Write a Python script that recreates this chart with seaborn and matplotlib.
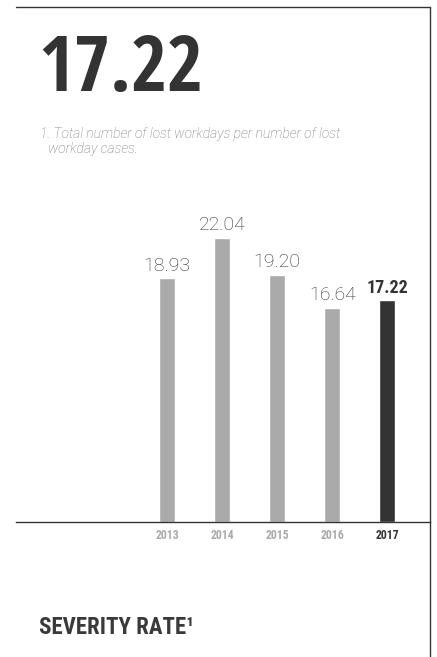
import matplotlib
matplotlib.use("Agg")
import matplotlib.pyplot as plt
from matplotlib.lines import Line2D
import seaborn as sns
import pandas as pd

# Severity rate by year
years = ["2013", "2014", "2015", "2016", "2017"]
values = [18.93, 22.04, 19.20, 16.64, 17.22]
value_labels = ["18.93", "22.04", "19.20", "16.64", "17.22"]
headline = "17.22"
footnote_lines = ["1. Total number of lost workdays per number of lost", "workday cases."]
title = "SEVERITY RATE\u00b9"

GREY = "#aaaaaa"
DARK = "#333333"
HEAD = ["Open Sans Condensed", "Roboto Condensed", "DejaVu Sans"]
COND = ["Roboto Condensed", "Open Sans Condensed", "DejaVu Sans"]

sns.set_theme(style="white")
plt.rcParams["font.family"] = ["Roboto", "DejaVu Sans"]

df = pd.DataFrame({"year": years, "value": values})
palette = {y: (DARK if i == len(years) - 1 else GREY) for i, y in enumerate(years)}

fig = plt.figure(figsize=(4.37, 6.57), dpi=100)
ax = fig.add_axes([16 / 437, (657 - 522) / 657, (430 - 16) / 437, 322 / 657])

sns.barplot(data=df, x="year", y="value", hue="year", palette=palette,
            order=years, hue_order=years, dodge=False, width=0.29,
            legend=False, ax=ax, saturation=1)

ax.set_xlim(-2.75, 4.78)
ax.set_ylim(0, 25)
ax.set_xlabel("")
ax.set_ylabel("")
ax.set_yticks([])
for s in ["top", "right", "left"]:
    ax.spines[s].set_visible(False)
ax.spines["bottom"].set_color(DARK)
ax.spines["bottom"].set_linewidth(1.0)

ax.set_xticks(range(len(years)))
ax.set_xticklabels(years)
ax.tick_params(axis="x", length=0, pad=5)
for i, t in enumerate(ax.get_xticklabels()):
    last = i == len(years) - 1
    t.set_fontfamily(COND)
    t.set_fontweight("bold")
    t.set_fontsize(8.5)
    t.set_color(DARK if last else GREY)

# Value labels above bars
for i, (v, lab) in enumerate(zip(values, value_labels)):
    last = i == len(years) - 1
    if last:
        ax.annotate(lab, (i, v), xytext=(0, 5), textcoords="offset points",
                    ha="center", va="baseline", fontsize=13, fontweight="bold",
                    family=COND, color=DARK)
    else:
        ax.annotate(lab, (i, v), xytext=(0, 5.5), textcoords="offset points",
                    ha="center", va="baseline", fontsize=14, fontweight="light",
                    color="#333333")

# Frame lines: top edge and right edge
fig.add_artist(Line2D([16 / 437, 430 / 437], [1 - 7 / 657, 1 - 7 / 657],
                      transform=fig.transFigure, color=DARK, lw=1.0))
fig.add_artist(Line2D([430 / 437, 430 / 437], [1 - 7 / 657, 0],
                      transform=fig.transFigure, color=DARK, lw=1.0))

# Headline figure
fig.text(38 / 437, 1 - 91 / 657, headline, fontsize=56, fontweight="bold",
         family=HEAD, color=DARK, ha="left", va="baseline")

# Footnote
fig.text(40 / 437, 1 - 138 / 657, footnote_lines[0], fontsize=10, style="italic",
         fontweight="light", color="#777777", ha="left", va="baseline")
fig.text(48 / 437, 1 - 153 / 657, footnote_lines[1], fontsize=10, style="italic",
         fontweight="light", color="#777777", ha="left", va="baseline")

# Title
fig.text(39 / 437, 1 - 634 / 657, title, fontsize=16.5, fontweight="bold",
         family=COND, color="#3a3a3a", ha="left", va="baseline")

fig.savefig("out.png", dpi=100)
